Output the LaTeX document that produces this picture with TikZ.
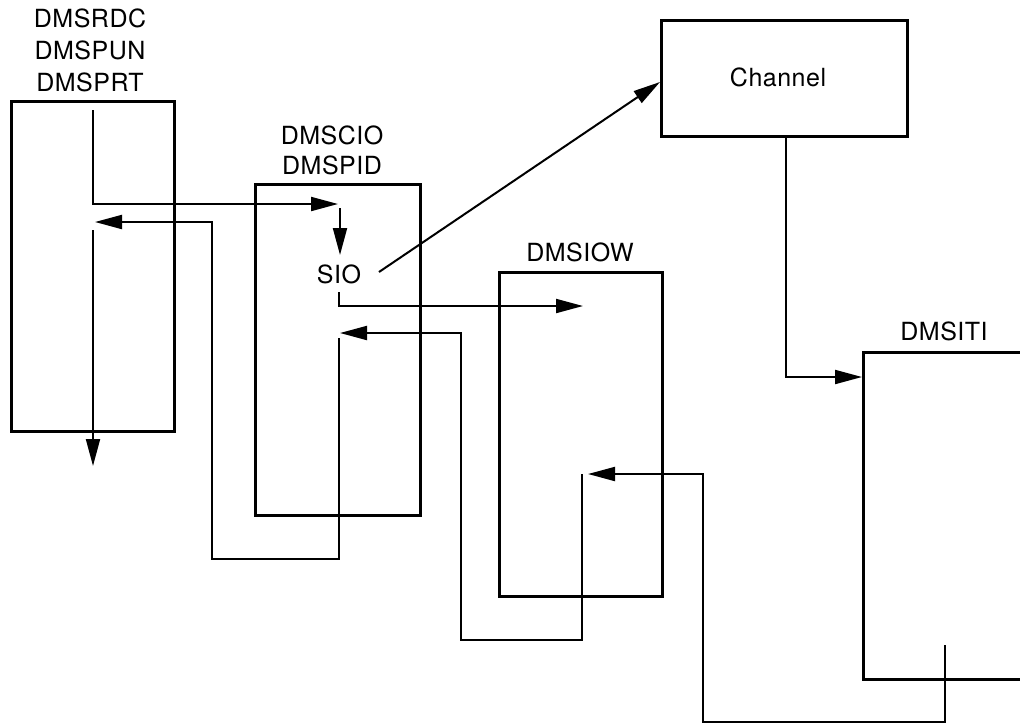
\documentclass[tikz,border=0pt]{standalone}
\usepackage{fontspec}
\setmainfont[LetterSpace=2]{TeX Gyre Heros}
\usetikzlibrary{arrows.meta}
\tikzset{
  box/.style={draw, line width=3.2pt, rectangle, anchor=north west, inner sep=0pt},
  conn/.style={line width=2pt},
  arr/.style={conn, -{Triangle[length=27pt,width=14pt]}},
  lbl/.style={inner sep=0pt, font=\fontsize{25}{29}\selectfont}
}
\begin{document}
\begin{tikzpicture}[x=1pt,y=-1pt]
\clip (0,0) rectangle (1020,724);
\useasboundingbox (0,0) rectangle (1020,724);
% boxes
\node[box, minimum width=163pt, minimum height=330pt] (b1) at (10,100) {};
\node[box, minimum width=165pt, minimum height=331pt] (b2) at (254,183) {};
\node[box, minimum width=163pt, minimum height=324pt] (b3) at (498,271) {};
\node[box, minimum width=246pt, minimum height=116pt] (ch) at (660,19) {};
\node[box, minimum width=200pt, minimum height=327pt] (b5) at (862,351) {};
% labels
\node[lbl] (l1a) at (90,18) {DMSRDC};
\node[lbl] (l1b) at (90,50) {DMSPUN};
\node[lbl] (l1c) at (90,82) {DMSPRT};
\node[lbl] (l2a) at (332,135) {DMSCIO};
\node[lbl] (l2b) at (332,165) {DMSPID};
\node[lbl] (l3) at (580,252) {DMSIOW};
\node[lbl] (l5) at (944,331) {DMSITI};
\node[lbl] (chl) at (778,77) {Channel};
\node[lbl] (sio) at (339,274) {SIO};
% coordinates
\coordinate (p1s) at (93,110);
\coordinate (p1e) at (338,204);
\coordinate (p2s) at (340,208);
\coordinate (p2e) at (340,255);
\coordinate (p3s) at (379,272);
\coordinate (p3e) at (ch.west |- 0,82);
\coordinate (p4s) at (339,292);
\coordinate (p4e) at (583,306);
\coordinate (p5s) at (582,474);
\coordinate (p5e) at (340,333);
\coordinate (p6s) at (339,338);
\coordinate (p6e) at (95,222);
\coordinate (p7s) at (93,230);
\coordinate (p7e) at (93,466);
\coordinate (p8s) at (786,135);
\coordinate (p8e) at (b5.west |- 0,377);
\coordinate (p9s) at (945,645);
\coordinate (p9e) at (588,474);
% connectors
\draw[arr] (p1s) |- (p1e);
\draw[arr] (p2s) -- (p2e);
\draw[arr] (p3s) -- (p3e);
\draw[arr] (p4s) |- (p4e);
\draw[arr] (p5s) -- (582,640) -- (461,640) -- (461,333) -- (p5e);
\draw[arr] (p6s) -- (339,559) -- (212,559) -- (212,222) -- (p6e);
\draw[arr] (p7s) -- (p7e);
\draw[arr] (p8s) |- (p8e);
\draw[arr] (p9s) -- (945,722) -- (703,722) -- (703,474) -- (p9e);
\end{tikzpicture}
\end{document}
